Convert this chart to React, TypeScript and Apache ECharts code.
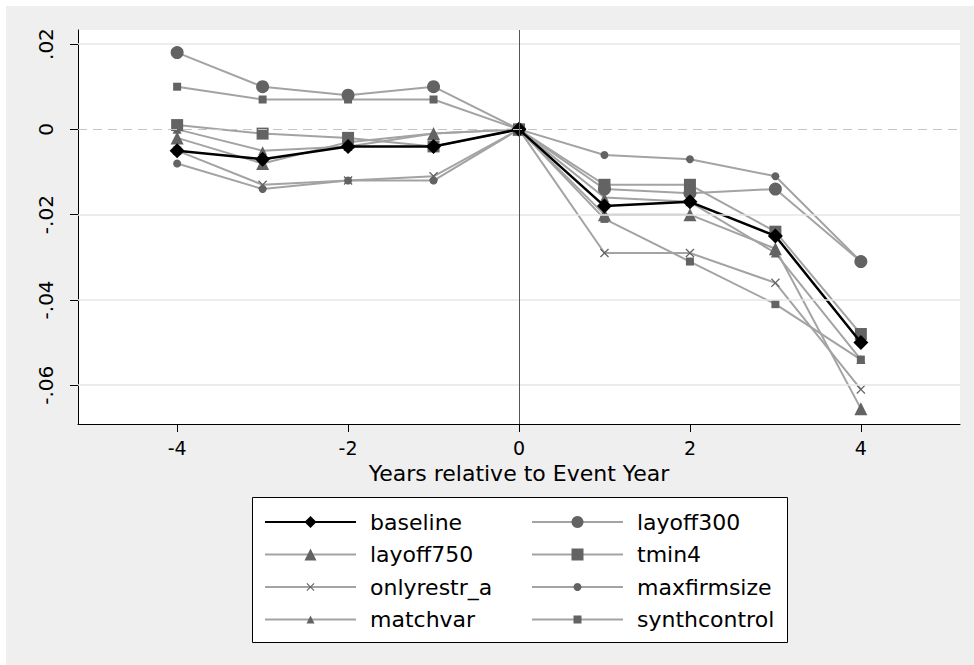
import React, { useEffect, useRef } from "react";
import * as echarts from "echarts";

const years = [-4, -3, -2, -1, 0, 1, 2, 3, 4];
const baseline = [-0.005, -0.007, -0.004, -0.004, 0, -0.018, -0.017, -0.025, -0.05];
const layoff300 = [0.018, 0.01, 0.008, 0.01, 0, -0.014, -0.015, -0.014, -0.031];
const layoff750 = [-0.002, -0.008, -0.003, -0.001, 0, -0.02, -0.02, -0.028, -0.0655];
const tmin4 = [0.001, -0.001, -0.002, -0.004, 0, -0.013, -0.013, -0.024, -0.048];
const onlyrestr_a = [-0.005, -0.013, -0.012, -0.011, 0, -0.029, -0.029, -0.036, -0.061];
const maxfirmsize = [-0.008, -0.014, -0.012, -0.012, 0, -0.006, -0.007, -0.011, -0.031];
const matchvar = [0.0, -0.005, -0.004, -0.001, 0, -0.016, -0.017, -0.029, -0.054];
const synthcontrol = [0.01, 0.007, 0.007, 0.007, 0, -0.021, -0.031, -0.041, -0.054];

const xTicks = [-4, -2, 0, 2, 4];
const yTicks = [-0.06, -0.04, -0.02, 0, 0.02];

const FONT = "DejaVu Sans";
const LINE_GRAY = "#a3a3a3";
const MARK_GRAY = "#636363";
const XMARK = "path://M0,1L1,0L5,4L9,0L10,1L6,5L10,9L9,10L5,6L1,10L0,9L4,5Z";

const pairs = (vals: number[]) => years.map((x, i) => [x, vals[i]]);

export default function App() {
  const ref = useRef<HTMLDivElement>(null);
  useEffect(() => {
    if (!ref.current) return;
    const chart = echarts.init(ref.current, undefined, { renderer: "svg" });

    const gray = (name: string, vals: number[], symbol: string, size: number) => ({
      name,
      type: "line",
      data: pairs(vals),
      symbol,
      symbolSize: size,
      z: 3,
      lineStyle: { color: LINE_GRAY, width: 2 },
      itemStyle: { color: MARK_GRAY },
      emphasis: { disabled: true },
    });

    const legendText = {
      fontFamily: FONT,
      fontSize: 22,
      color: "#000",
      lineHeight: 22,
      padding: [0, 0, 0, 9],
    };
    const mkLegend = (left: number, top: number, names: string[], ih: number) => ({
      show: true,
      orient: "vertical",
      left,
      top,
      padding: 0,
      itemWidth: 91,
      itemHeight: ih,
      itemGap: 32.5 - 22,
      textStyle: legendText,
      data: names,
      selectedMode: false,
    });

    chart.setOption({
      animation: false,
      backgroundColor: "#efefef",
      grid: {
        left: 72,
        top: 24,
        right: 14,
        bottom: 241,
        show: true,
        backgroundColor: "#ffffff",
        borderWidth: 0,
      },
      xAxis: {
        type: "value",
        min: -5.16,
        max: 5.16,
        name: "Years relative to Event Year",
        nameLocation: "middle",
        nameGap: 38,
        nameTextStyle: { fontFamily: FONT, fontSize: 22, color: "#000" },
        axisLine: { show: true, onZero: false, lineStyle: { color: "#000", width: 1 } },
        axisTick: { show: true, length: 8, customValues: xTicks, lineStyle: { color: "#000" } },
        axisLabel: {
          customValues: xTicks,
          margin: 14,
          fontFamily: FONT,
          fontSize: 19,
          color: "#000",
          formatter: (v: number) => String(v),
        },
        splitLine: { show: false },
      },
      yAxis: {
        type: "value",
        min: -0.0691,
        max: 0.0233,
        axisLine: { show: true, onZero: false, lineStyle: { color: "#000", width: 1 } },
        axisTick: { show: true, length: 8, customValues: yTicks, lineStyle: { color: "#000" } },
        axisLabel: {
          customValues: yTicks,
          rotate: 90,
          margin: 22,
          fontFamily: FONT,
          fontSize: 20,
          color: "#000",
          formatter: (v: number) => {
            if (Math.abs(v) < 1e-9) return "0";
            const s = Math.abs(v).toFixed(2).replace(/^0/, "");
            return (v < 0 ? "-" : "") + s;
          },
        },
        splitLine: { show: false },
      },
      legend: [
        mkLegend(258, 505, ["baseline", "layoff750"], 15),
        mkLegend(258, 570, ["onlyrestr_a", "matchvar"], 10),
        mkLegend(525, 505, ["layoff300", "tmin4"], 15),
        mkLegend(525, 570, ["maxfirmsize", "synthcontrol"], 10),
      ],
      graphic: [
        {
          type: "rect",
          left: 246,
          top: 491,
          shape: { width: 535, height: 145 },
          style: { fill: "#ffffff", stroke: "#000", lineWidth: 1 },
          z: -1,
        },
      ],
      series: [
        {
          name: "_ref",
          type: "line",
          data: [],
          z: 1,
          silent: true,
          markLine: {
            silent: true,
            symbol: "none",
            label: { show: false },
            emphasis: { disabled: true },
            data: [
              { yAxis: 0.02, lineStyle: { color: "#e6e6e6", width: 1.5, type: "solid" } },
              { yAxis: -0.02, lineStyle: { color: "#e6e6e6", width: 1.5, type: "solid" } },
              { yAxis: -0.04, lineStyle: { color: "#e6e6e6", width: 1.5, type: "solid" } },
              { yAxis: -0.06, lineStyle: { color: "#e6e6e6", width: 1.5, type: "solid" } },
              { yAxis: 0, lineStyle: { color: "#c4c4c4", width: 1, type: [9, 6] } },
              { xAxis: 0, lineStyle: { color: "#555555", width: 1, type: "solid" } },
            ],
          },
        },
        gray("synthcontrol", synthcontrol, "rect", 8),
        gray("matchvar", matchvar, "triangle", 9),
        gray("maxfirmsize", maxfirmsize, "circle", 8),
        gray("onlyrestr_a", onlyrestr_a, XMARK, 9),
        gray("tmin4", tmin4, "rect", 12),
        gray("layoff750", layoff750, "triangle", 13),
        gray("layoff300", layoff300, "circle", 13),
        {
          name: "baseline",
          type: "line",
          data: pairs(baseline),
          symbol: "diamond",
          symbolSize: 15,
          z: 4,
          lineStyle: { color: "#000", width: 2.5 },
          itemStyle: { color: "#000" },
          emphasis: { disabled: true },
        },
      ],
    });
    return () => chart.dispose();
  }, []);

  return (
    <div style={{ position: "fixed", left: 0, top: 0, width: 974, height: 665, background: "#fff" }}>
      <div ref={ref} style={{ position: "absolute", left: 6, top: 6, width: 968, height: 659 }} />
    </div>
  );
}
